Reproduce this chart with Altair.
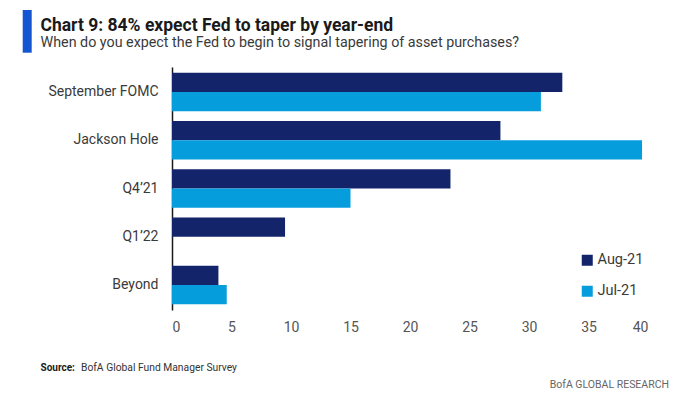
import altair as alt
import pandas as pd

categories = ["September FOMC", "Jackson Hole", "Q4’21", "Q1’22", "Beyond"]
series = ["Aug-21", "Jul-21"]
aug_21 = [32.8, 27.6, 23.4, 9.5, 3.9]
jul_21 = [31.0, 39.5, 15.0, None, 4.6]
x_ticks = [0, 5, 10, 15, 20, 25, 30, 35, 40]
colors = ["#13246b", "#069ddc"]

title_text = "Chart 9: 84% expect Fed to taper by year-end"
subtitle_text = "When do you expect the Fed to begin to signal tapering of asset purchases?"
source_label = "Source:"
source_text = "BofA Global Fund Manager Survey"
brand_text = "BofA GLOBAL RESEARCH"

FONT = "Roboto"

rows = []
for c, a, j in zip(categories, aug_21, jul_21):
    if a is not None:
        rows.append({"cat": c, "series": "Aug-21", "value": a})
    if j is not None:
        rows.append({"cat": c, "series": "Jul-21", "value": j})
df = pd.DataFrame(rows)

bars = alt.Chart(df).mark_bar().encode(
    y=alt.Y("cat:N", sort=categories, title=None,
            scale=alt.Scale(paddingInner=0.2, paddingOuter=0.12),
            axis=alt.Axis(domainColor="#1a1a1a", domainWidth=1.5, ticks=False,
                          labelFontSize=14, labelColor="#3a3a3a", labelPadding=14,
                          labelFont=FONT)),
    yOffset=alt.YOffset("series:N", sort=series, scale=alt.Scale(paddingInner=0, paddingOuter=0)),
    x=alt.X("value:Q", title=None, scale=alt.Scale(domain=[0, 40], nice=False),
            axis=alt.Axis(values=x_ticks, grid=False, domain=False, ticks=False,
                          labelFontSize=14, labelColor="#555555", labelPadding=10,
                          labelFont=FONT)),
    color=alt.Color("series:N", sort=series,
                    scale=alt.Scale(domain=series, range=colors),
                    legend=alt.Legend(title=None, orient="none", legendX=408, legendY=186,
                                      symbolType="square", symbolSize=121,
                                      symbolStrokeWidth=0, labelFontSize=14.5,
                                      labelColor="#3a3a3a", labelFont=FONT,
                                      rowPadding=16, labelOffset=3, padding=0)),
)

one = pd.DataFrame({"k": [0]})

blue_bar = alt.Chart(one).mark_rect(color="#1456d2").encode(
    x=alt.value(-149.3), x2=alt.value(-140.3), y=alt.value(-57), y2=alt.value(-14.3)
)

title = alt.Chart(one).mark_text(
    text=title_text, align="left", baseline="alphabetic", fontSize=17.5,
    fontWeight="bold", font=FONT, color="#1a1a1a"
).encode(x=alt.value(-131.5), y=alt.value(-36))

subtitle = alt.Chart(one).mark_text(
    text=subtitle_text, align="left", baseline="alphabetic", fontSize=14.3,
    font=FONT, color="#3a3a3a"
).encode(x=alt.value(-131.5), y=alt.value(-20))

src1 = alt.Chart(one).mark_text(
    text=source_label, align="left", baseline="alphabetic", fontSize=10,
    fontWeight="bold", font=FONT, color="#1a1a1a"
).encode(x=alt.value(-131.5), y=alt.value(304))

src2 = alt.Chart(one).mark_text(
    text=source_text, align="left", baseline="alphabetic", fontSize=10.3,
    font=FONT, color="#333333"
).encode(x=alt.value(-91), y=alt.value(304))

brand = alt.Chart(one).mark_text(
    text=brand_text, align="right", baseline="alphabetic", fontSize=10.5,
    font=FONT, color="#666666"
).encode(x=alt.value(497), y=alt.value(321))

chart = alt.layer(bars, blue_bar, title, subtitle, src1, src2, brand).properties(
    width=476, height=243,
    autosize=alt.AutoSizeParams(type="none"),
    padding={"left": 164, "top": 59, "right": 36, "bottom": 80},
    background="white",
).configure_view(stroke=None)

chart.save("out.html", embed_options={"renderer": "svg", "actions": False})
